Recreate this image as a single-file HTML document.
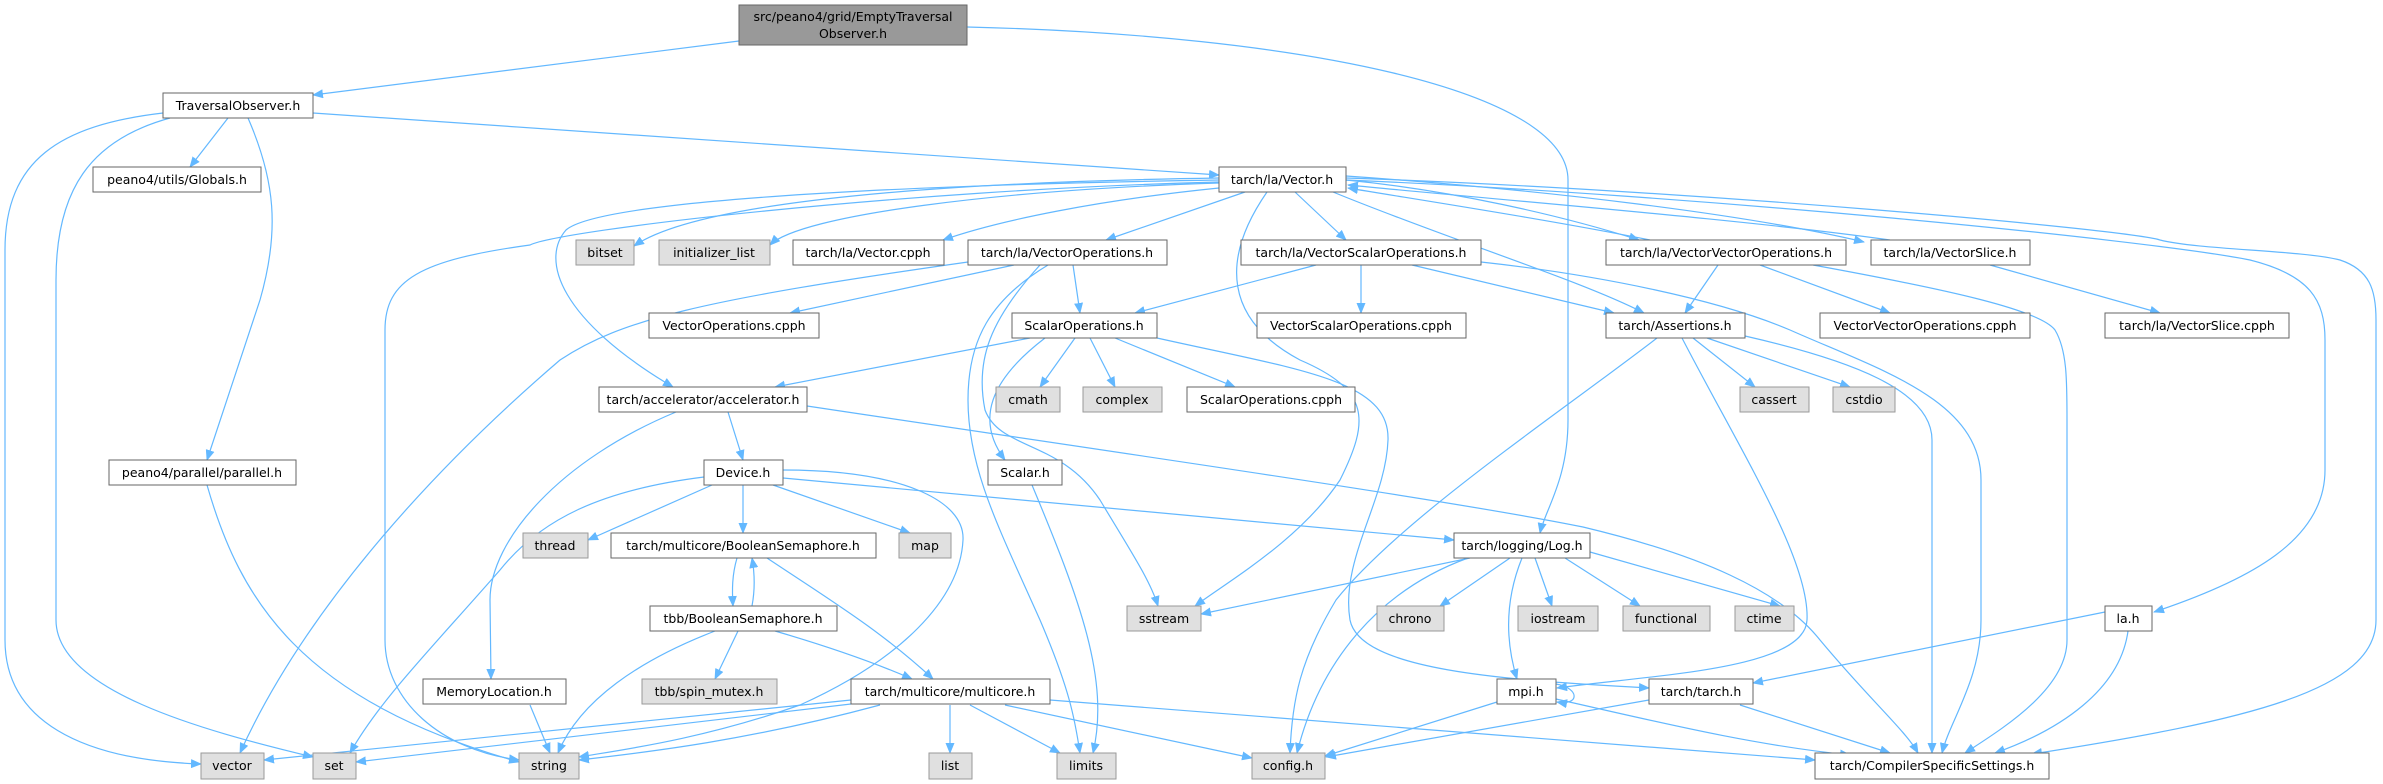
<!DOCTYPE html>
<html><head><meta charset="utf-8"><style>
html,body{margin:0;padding:0;background:#fff;}
svg{display:block;}
text{font-family:"DejaVu Sans","Liberation Sans",sans-serif;font-size:12.5px;fill:#000;text-anchor:middle;}
.n rect{fill:#fff;stroke:#666;stroke-width:1;}
.g rect{fill:#e0e0e0;stroke:#999;stroke-width:1;}
.e path{fill:none;stroke:#63b8ff;stroke-width:1.2;}
</style></head><body>
<svg width="2383" height="784" viewBox="0 0 2383 784" xmlns="http://www.w3.org/2000/svg">
<defs><marker id="a" markerWidth="11" markerHeight="9" refX="10" refY="4.5" orient="auto" markerUnits="userSpaceOnUse"><path d="M0,0 L11,4.5 L0,9 z" fill="#63b8ff"/></marker></defs>
<g class="e" marker-end="url(#a)">
<path d="M739,41 L313,95"/>
<path d="M967,27 C1300,35 1568,90 1568,180 L1568,420 C1568,480 1545,510 1540,533"/>
<path d="M228,118 L190,167"/>
<path d="M248,118 C275,180 280,230 260,300 L207,460"/>
<path d="M163,113 C60,125 5,160 5,250 L5,640 C5,720 80,760 201,764"/>
<path d="M170,118 C90,140 56,190 56,280 L56,620 C56,690 200,730 313,757"/>
<path d="M313,113 L1219,175"/>
<path d="M207,485 C240,600 300,700 519,762"/>
<path d="M1219,178 C950,182 700,200 634,246"/>
<path d="M1219,183 C1000,190 800,215 770,245"/>
<path d="M1219,188 C1100,200 1000,220 943,240"/>
<path d="M1245,192 L1106,240"/>
<path d="M1295,192 L1346,240"/>
<path d="M1219,180 C900,185 600,200 566,230 C540,260 560,320 673,387"/>
<path d="M1219,182 C900,190 560,230 530,245 C420,260 385,280 385,330 L385,640 C385,700 440,750 519,760"/>
<path d="M968,262 C700,300 620,320 560,360 C420,480 300,620 240,753"/>
<path d="M1014,265 L790,313"/>
<path d="M1267,192 C1220,260 1225,320 1300,360 C1370,390 1370,420 1340,480 C1300,540 1230,580 1195,606"/>
<path d="M1157,338 C1300,370 1390,380 1388,440 C1386,500 1340,560 1350,620 C1360,670 1500,680 1649,688"/>
<path d="M1333,192 C1450,240 1580,280 1644,313"/>
<path d="M1346,180 C1450,190 1560,215 1639,240"/>
<path d="M1346,176 C1550,190 1750,215 1864,242"/>
<path d="M1650,240 C1550,220 1420,200 1348,188"/>
<path d="M1890,240 C1750,220 1500,200 1348,185"/>
<path d="M1346,180 C1700,195 2150,240 2250,260 C2310,275 2325,300 2325,340 L2325,470 C2325,540 2250,580 2154,612"/>
<path d="M1346,178 C1700,190 2130,230 2160,240 C2200,250 2300,250 2340,260 C2370,270 2376,290 2376,320 L2376,620 C2376,690 2250,720 2032,754"/>
<path d="M1073,265 L1080,313"/>
<path d="M1048,265 C990,300 968,340 968,400 C968,470 1000,530 1040,620 C1070,690 1075,720 1080,753"/>
<path d="M1040,265 C990,320 975,360 985,410 C1000,450 1060,440 1100,500 C1130,550 1150,580 1158,606"/>
<path d="M1045,338 C990,380 975,420 1005,460"/>
<path d="M1316,265 L1135,313"/>
<path d="M1361,265 L1361,313"/>
<path d="M1412,265 L1614,313"/>
<path d="M1481,262 C1600,275 1720,300 1790,330 C1880,370 1981,400 1981,480 L1981,620 C1981,680 1950,720 1942,753"/>
<path d="M1030,338 L775,387"/>
<path d="M1075,338 L1040,387"/>
<path d="M1090,338 L1115,387"/>
<path d="M1115,338 L1235,387"/>
<path d="M1718,265 L1685,313"/>
<path d="M1760,265 L1890,313"/>
<path d="M1813,265 C1950,290 2040,310 2055,330 C2067,350 2067,380 2067,420 L2067,640 C2067,690 2000,730 1965,753"/>
<path d="M1990,265 L2160,313"/>
<path d="M1693,338 L1755,387"/>
<path d="M1707,338 L1850,387"/>
<path d="M1745,336 C1850,360 1932,390 1932,440 L1932,753"/>
<path d="M1657,338 C1550,420 1400,520 1336,600 C1300,660 1292,700 1290,753"/>
<path d="M1682,338 C1740,450 1810,560 1807,620 C1805,670 1650,675 1557,688"/>
<path d="M728,412 L743,460"/>
<path d="M676,412 C560,460 490,540 490,600 L491,679"/>
<path d="M807,406 C1100,450 1450,500 1583,527 C1700,555 1780,590 1820,640 C1870,700 1905,730 1918,753"/>
<path d="M712,485 L588,540"/>
<path d="M743,485 L743,533"/>
<path d="M773,485 L910,533"/>
<path d="M704,477 C600,490 540,520 500,570 C430,650 380,700 350,753"/>
<path d="M783,470 C900,470 965,500 963,540 C960,600 900,660 800,705 C700,740 620,750 579,757"/>
<path d="M783,478 L1454,540"/>
<path d="M737,558 C732,575 732,590 733,606"/>
<path d="M752,606 C755,590 755,575 752,558"/>
<path d="M767,558 C830,600 880,630 933,679"/>
<path d="M738,631 L715,679"/>
<path d="M715,631 C640,660 580,700 558,753"/>
<path d="M775,631 C840,650 880,665 912,679"/>
<path d="M530,705 L550,753"/>
<path d="M851,700 L264,760"/>
<path d="M851,704 L356,762"/>
<path d="M880,705 C750,740 650,752 579,760"/>
<path d="M950,705 L950,753"/>
<path d="M970,705 L1060,753"/>
<path d="M1005,705 L1252,758"/>
<path d="M1050,700 L1815,760"/>
<path d="M1032,485 C1080,600 1110,680 1093,753"/>
<path d="M1470,558 L1201,614"/>
<path d="M1510,558 L1440,606"/>
<path d="M1535,558 L1552,606"/>
<path d="M1565,558 L1640,606"/>
<path d="M1590,552 L1780,606"/>
<path d="M1468,558 C1380,590 1320,660 1297,753"/>
<path d="M1522,558 C1505,600 1505,640 1517,679"/>
<path d="M1556,684 C1580,688 1580,706 1557,702"/>
<path d="M1497,702 L1325,756"/>
<path d="M1556,699 C1650,720 1750,745 1850,755"/>
<path d="M1649,700 L1326,757"/>
<path d="M1740,705 L1890,753"/>
<path d="M2105,612 L1753,683"/>
<path d="M2128,631 C2120,690 2060,730 1995,753"/>
</g>
<g>
<rect x="739" y="5" width="228" height="40" fill="#999" stroke="#666"/>
<text x="853" y="21">src/peano4/grid/EmptyTraversal</text><text x="853" y="38">Observer.h</text>
</g>
<g class="n">
<rect x="163" y="93" width="150" height="25"/><text x="238" y="110">TraversalObserver.h</text>
<rect x="93" y="167" width="168" height="25"/><text x="177" y="184">peano4/utils/Globals.h</text>
<rect x="793" y="240" width="151" height="25"/><text x="868" y="257">tarch/la/Vector.cpph</text>
<rect x="649" y="313" width="170" height="25"/><text x="734" y="330">VectorOperations.cpph</text>
<rect x="599" y="387" width="208" height="25"/><text x="703" y="404">tarch/accelerator/accelerator.h</text>
<rect x="1219" y="167" width="127" height="25"/><text x="1282" y="184">tarch/la/Vector.h</text>
<rect x="968" y="240" width="199" height="25"/><text x="1067" y="257">tarch/la/VectorOperations.h</text>
<rect x="1241" y="240" width="240" height="25"/><text x="1361" y="257">tarch/la/VectorScalarOperations.h</text>
<rect x="1012" y="313" width="145" height="25"/><text x="1084" y="330">ScalarOperations.h</text>
<rect x="1257" y="313" width="209" height="25"/><text x="1361" y="330">VectorScalarOperations.cpph</text>
<rect x="1187" y="387" width="168" height="25"/><text x="1271" y="404">ScalarOperations.cpph</text>
<rect x="1606" y="240" width="240" height="25"/><text x="1726" y="257">tarch/la/VectorVectorOperations.h</text>
<rect x="1871" y="240" width="159" height="25"/><text x="1950" y="257">tarch/la/VectorSlice.h</text>
<rect x="1606" y="313" width="139" height="25"/><text x="1675" y="330">tarch/Assertions.h</text>
<rect x="1820" y="313" width="210" height="25"/><text x="1925" y="330">VectorVectorOperations.cpph</text>
<rect x="2105" y="313" width="184" height="25"/><text x="2197" y="330">tarch/la/VectorSlice.cpph</text>
<rect x="109" y="460" width="187" height="25"/><text x="202" y="477">peano4/parallel/parallel.h</text>
<rect x="704" y="460" width="79" height="25"/><text x="743" y="477">Device.h</text>
<rect x="611" y="533" width="265" height="25"/><text x="743" y="550">tarch/multicore/BooleanSemaphore.h</text>
<rect x="650" y="606" width="187" height="25"/><text x="743" y="623">tbb/BooleanSemaphore.h</text>
<rect x="423" y="679" width="143" height="25"/><text x="494" y="696">MemoryLocation.h</text>
<rect x="988" y="460" width="74" height="25"/><text x="1025" y="477">Scalar.h</text>
<rect x="1454" y="533" width="136" height="25"/><text x="1522" y="550">tarch/logging/Log.h</text>
<rect x="851" y="679" width="199" height="25"/><text x="950" y="696">tarch/multicore/multicore.h</text>
<rect x="1497" y="679" width="59" height="25"/><text x="1526" y="696">mpi.h</text>
<rect x="2105" y="606" width="47" height="25"/><text x="2128" y="623">la.h</text>
<rect x="1649" y="679" width="104" height="25"/><text x="1701" y="696">tarch/tarch.h</text>
<rect x="1815" y="753" width="234" height="26"/><text x="1932" y="770">tarch/CompilerSpecificSettings.h</text>
</g>
<g class="g">
<rect x="576" y="240" width="58" height="25"/><text x="605" y="257">bitset</text>
<rect x="659" y="240" width="111" height="25"/><text x="714" y="257">initializer_list</text>
<rect x="996" y="387" width="64" height="25"/><text x="1028" y="404">cmath</text>
<rect x="1083" y="387" width="79" height="25"/><text x="1122" y="404">complex</text>
<rect x="1740" y="387" width="69" height="25"/><text x="1774" y="404">cassert</text>
<rect x="1833" y="387" width="62" height="25"/><text x="1864" y="404">cstdio</text>
<rect x="523" y="533" width="65" height="25"/><text x="555" y="550">thread</text>
<rect x="899" y="533" width="52" height="25"/><text x="925" y="550">map</text>
<rect x="642" y="679" width="135" height="25"/><text x="709" y="696">tbb/spin_mutex.h</text>
<rect x="1127" y="606" width="74" height="25"/><text x="1164" y="623">sstream</text>
<rect x="1377" y="606" width="67" height="25"/><text x="1410" y="623">chrono</text>
<rect x="1518" y="606" width="80" height="25"/><text x="1558" y="623">iostream</text>
<rect x="1623" y="606" width="87" height="25"/><text x="1666" y="623">functional</text>
<rect x="1735" y="606" width="59" height="25"/><text x="1764" y="623">ctime</text>
<rect x="201" y="753" width="63" height="26"/><text x="232" y="770">vector</text>
<rect x="313" y="753" width="43" height="26"/><text x="334" y="770">set</text>
<rect x="519" y="753" width="60" height="26"/><text x="549" y="770">string</text>
<rect x="929" y="753" width="43" height="26"/><text x="950" y="770">list</text>
<rect x="1057" y="753" width="59" height="26"/><text x="1086" y="770">limits</text>
<rect x="1252" y="753" width="73" height="26"/><text x="1288" y="770">config.h</text>
</g>
</svg>
</body></html>
